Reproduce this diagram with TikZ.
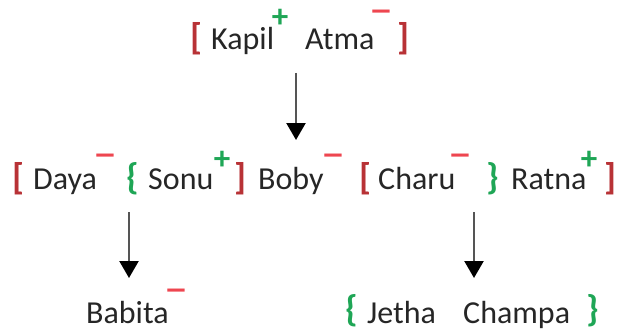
\documentclass[tikz,border=0pt]{standalone}
\usepackage{graphicx}
\usepackage{fontspec}
\setmainfont{Carlito}
\usetikzlibrary{arrows.meta}
\definecolor{brk}{HTML}{B83236}
\definecolor{mns}{HTML}{EE4650}
\definecolor{grn}{HTML}{1FA656}
\definecolor{txt}{HTML}{262626}
\definecolor{arr}{HTML}{555555}
\newcommand{\wideminus}{\scalebox{1.4}[1]{–}}
\tikzset{
  nmtext/.style={anchor=base west,inner sep=0pt,text=txt,font=\fontsize{32}{36}\selectfont},
  rbrk/.style={anchor=base west,inner sep=0pt,text=brk,font=\fontsize{37}{40}\selectfont\bfseries},
  gbrk/.style={anchor=base west,inner sep=0pt,text=grn,font=\fontsize{37}{40}\selectfont\bfseries},
  plsign/.style={anchor=center,inner sep=0pt,text=grn,font=\fontsize{33}{34}\selectfont\bfseries},
  mnsign/.style={anchor=center,inner sep=0pt,text=mns,font=\fontsize{35}{36}\selectfont\bfseries},
  linkarrow/.style={draw=arr,line width=2.4pt,-{Triangle[width=19pt,length=17pt,color=black]}}
}
\begin{document}
\begin{tikzpicture}[x=1pt,y=-1pt]
\useasboundingbox (0,0) rectangle (621,329);
% top row
\node[rbrk] (t1) at (190,50) {[};
\node[nmtext] (kapil) at (211,50) {Kapil};
\node[plsign] (kp) at (280,18) {+};
\node[nmtext] (atma) at (305,50) {Atma};
\node[mnsign] (am) at (381,16) {\wideminus};
\node[rbrk] (t2) at (397,50) {]};
% middle row
\node[rbrk] (m1) at (12,189) {[};
\node[nmtext] (daya) at (33,189) {Daya};
\node[mnsign] (dm) at (105,160) {\wideminus};
\node[gbrk] (m2) at (126,189) {\{};
\node[nmtext] (sonu) at (148,189) {Sonu};
\node[plsign] (sp) at (222,160) {+};
\node[rbrk] (m3) at (234,189) {]};
\node[nmtext] (boby) at (258,189) {Boby};
\node[mnsign] (bm) at (333,160) {\wideminus};
\node[rbrk] (m4) at (359,189) {[};
\node[nmtext] (charu) at (378,189) {Charu};
\node[mnsign] (cm) at (460,160) {\wideminus};
\node[gbrk] (m5) at (486,189) {\}};
\node[nmtext] (ratna) at (511,189) {Ratna};
\node[plsign] (rp) at (589,160) {+};
\node[rbrk] (m6) at (604,189) {]};
% bottom row
\node[nmtext] (babita) at (86,323) {Babita};
\node[mnsign] (bbm) at (176,295) {\wideminus};
\node[gbrk] (b1) at (345,321) {\{};
\node[nmtext] (jetha) at (367,323) {Jetha};
\node[nmtext] (champa) at (463,323) {Champa};
\node[gbrk] (b2) at (586,321) {\}};
% arrows
\coordinate (a1s) at (296,73);
\coordinate (a1e) at (296,140);
\coordinate (a2s) at (129,212);
\coordinate (a2e) at (129,278);
\coordinate (a3s) at (474,212);
\coordinate (a3e) at (474,278);
\draw[linkarrow] (a1s) -- (a1e);
\draw[linkarrow] (a2s) -- (a2e);
\draw[linkarrow] (a3s) -- (a3e);
\end{tikzpicture}
\end{document}
